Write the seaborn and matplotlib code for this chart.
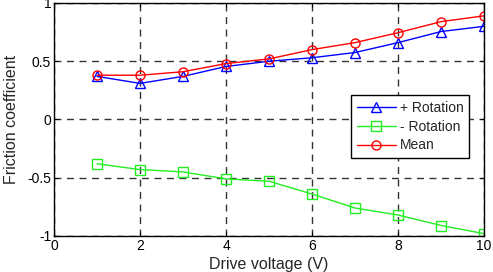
import numpy as np
import pandas as pd
import matplotlib
matplotlib.use("Agg")
import matplotlib.pyplot as plt
import seaborn as sns

# values
voltage = [1, 2, 3, 4, 5, 6, 7, 8, 9, 10]
plus_rot = [0.37, 0.31, 0.37, 0.455, 0.50, 0.53, 0.575, 0.66, 0.755, 0.80]
minus_rot = [-0.38, -0.43, -0.45, -0.51, -0.53, -0.64, -0.76, -0.82, -0.91, -0.98]
mean_fc = [0.38, 0.38, 0.41, 0.48, 0.52, 0.60, 0.66, 0.745, 0.84, 0.89]

series_names = ["+ Rotation", "- Rotation", "Mean"]
colors = ["#0000ff", "#22ee22", "#ff0000"]
markers = ["^", "s", "o"]

df = pd.DataFrame({
    "Drive voltage (V)": voltage * 3,
    "Friction coefficient": plus_rot + minus_rot + mean_fc,
    "series": [s for s in series_names for _ in voltage],
})

sns.set_style("white")
plt.rcParams["font.family"] = ["Liberation Sans", "DejaVu Sans"]

fig = plt.figure(figsize=(4.93, 2.72), dpi=100)
ax = fig.add_axes([0.1095, 0.1324, 0.8725, 0.8566])

for name, c, m in zip(series_names, colors, markers):
    sns.lineplot(data=df[df["series"] == name], x="Drive voltage (V)", y="Friction coefficient",
                 color=c, marker=m, markersize=6.5, markerfacecolor="none", markeredgecolor=c,
                 markeredgewidth=1.0, linewidth=1.0, label=name, ax=ax)

ax.set_xlim(0, 10)
ax.set_ylim(-1, 1)
ax.set_xticks([0, 2, 4, 6, 8, 10])
ax.set_yticks([-1, -0.5, 0, 0.5, 1])
ax.set_yticklabels(["-1", "-0.5", "0", "0.5", "1"])

ax.grid(True, color="#333333", linestyle=(0, (5, 4)), linewidth=1.0)
for sp in ax.spines.values():
    sp.set_color("black")
    sp.set_linewidth(1.0)

ax.tick_params(direction="in", length=3, width=0.8, labelsize=10, top=True, right=True,
               left=True, bottom=True, colors="black", pad=2)
ax.set_xlabel("Drive voltage (V)", fontsize=11.5, labelpad=3)
ax.set_ylabel("Friction coefficient", fontsize=11.5, labelpad=6)

leg = ax.legend(loc="lower right", bbox_to_anchor=(0.965, 0.335), fontsize=10, frameon=True,
                fancybox=False, edgecolor="black", framealpha=1, handlelength=2.8,
                borderpad=0.4, labelspacing=0.35, handletextpad=0.3, borderaxespad=0)
leg.get_frame().set_linewidth(1.0)

fig.savefig("out.png", dpi=100)
plt.close()
